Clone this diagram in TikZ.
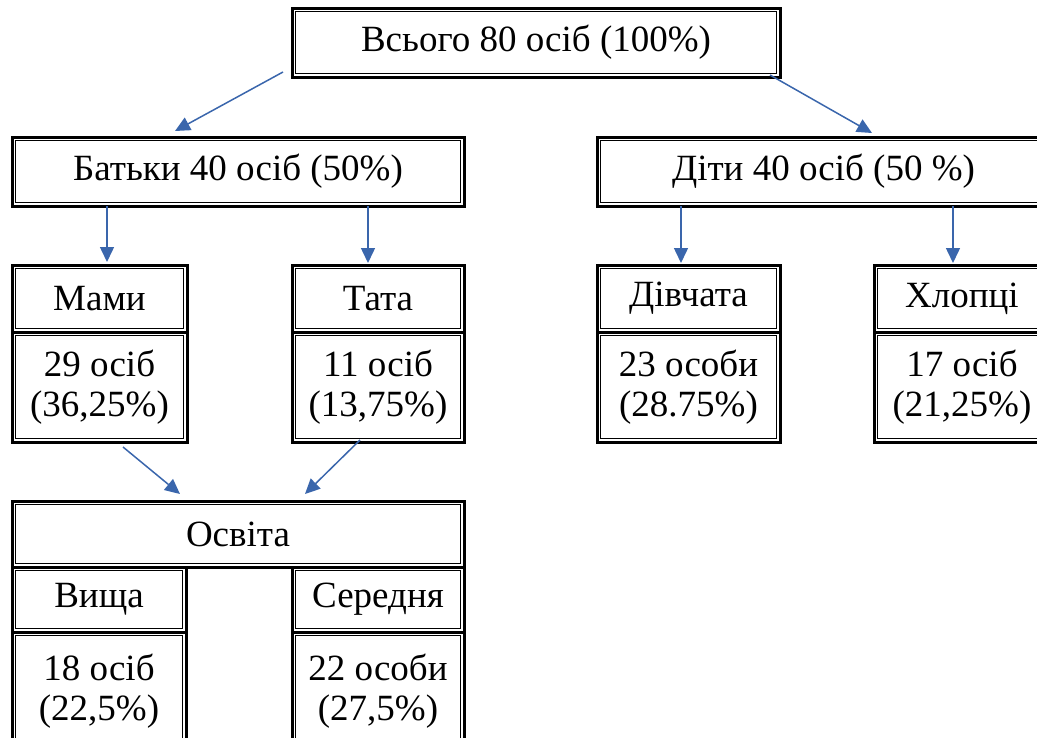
\documentclass[tikz,border=0pt]{standalone}
\usepackage{fontspec}
\setmainfont{Liberation Serif}
\usetikzlibrary{arrows.meta}
\definecolor{arrowblue}{RGB}{58,102,172}

\begin{document}
\begin{tikzpicture}[x=1pt,y=-1pt,
  cell/.style={draw, line width=3pt, inner sep=0pt, outer sep=0pt, align=center,
    font=\fontsize{37}{40}\selectfont},
  inner/.style={line width=1.2pt},
  arr/.style={arrowblue, line width=1.5pt, -{Triangle[length=15pt,width=14pt]}}]
\clip (0,0) rectangle (1037,737);

\node[cell, minimum width=488pt, minimum height=69pt] (total) at (536,42.5) {Всього 80 осіб (100\%)};
\node[cell, minimum width=452pt, minimum height=69pt] (batky) at (238,171.5) {Батьки 40 осіб (50\%)};
\node[cell, minimum width=453pt, minimum height=69pt] (dity) at (823.5,171.5) {Діти 40 осіб (50 \%)};

\node[cell, minimum width=175pt, minimum height=67pt] (mamy) at (99.5,298.5) {Мами};
\node[cell, minimum width=175pt, minimum height=110pt] (mamyb) at (99.5,387) {29 осіб\\(36,25\%)};
\node[cell, minimum width=172pt, minimum height=67pt] (tata) at (378,298.5) {Тата};
\node[cell, minimum width=172pt, minimum height=110pt] (tatab) at (378,387) {11 осіб\\(13,75\%)};
\node[cell, minimum width=183pt, minimum height=67pt] (divch) at (688.5,298.5) {Дівчата};
\node[cell, minimum width=183pt, minimum height=110pt] (divchb) at (688.5,387) {23 особи\\(28.75\%)};
\node[cell, minimum width=176pt, minimum height=67pt] (khlop) at (962,298.5) {Хлопці};
\node[cell, minimum width=176pt, minimum height=110pt] (khlopb) at (962,387) {17 осіб\\(21,25\%)};

\node[cell, minimum width=452pt, minimum height=66pt] (osvita) at (238,534) {Освіта};
\node[cell, minimum width=174pt, minimum height=65pt] (vyshcha) at (99,599.5) {Вища};
\node[cell, minimum width=174pt, minimum height=118pt] (vyshchab) at (99,691) {18 осіб\\(22,5\%)};
\node[cell, minimum width=172pt, minimum height=65pt] (sered) at (378,599.5) {Середня};
\node[cell, minimum width=172pt, minimum height=118pt] (seredb) at (378,691) {22 особи\\(27,5\%)};

\foreach \n in {total,batky,dity,mamy,mamyb,tata,tatab,divch,divchb,khlop,khlopb,osvita,vyshcha,vyshchab,sered,seredb}
  \draw[inner] ([shift={(3.8,3.8)}]\n.north west) rectangle ([shift={(-3.8,-3.8)}]\n.south east);

\draw[arr] ([shift={(-9,29.5)}]total.west) -- ([shift={(-63,-6)}]batky.north);
\draw[arr] ([shift={(-10,-2)}]total.south east) -- ([shift={(48.5,-4)}]dity.north);
\draw[arr] ([shift={(95,0)}]batky.south west) -- ([shift={(7.5,-3)}]mamy.north);
\draw[arr] ([shift={(356,0)}]batky.south west) -- ([shift={(-10,-2)}]tata.north);
\draw[arr] ([shift={(84,0)}]dity.south west) -- ([shift={(-7.5,-2)}]divch.north);
\draw[arr] ([shift={(356,0)}]dity.south west) -- ([shift={(-9,-2)}]khlop.north);
\draw[arr] ([shift={(23.5,5)}]mamyb.south) -- ([shift={(-58,-7)}]osvita.north);
\draw[arr] ([shift={(-18,-2)}]tatab.south) -- ([shift={(67,-7)}]osvita.north);

\end{tikzpicture}
\end{document}
